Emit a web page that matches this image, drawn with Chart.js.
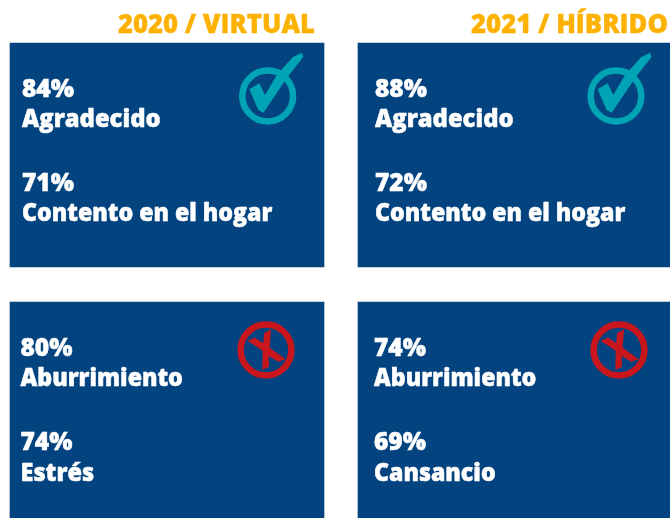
<!DOCTYPE html>
<html lang="es">
<head>
<meta charset="utf-8">
<title>2020 / 2021</title>
<script src="https://cdn.jsdelivr.net/npm/chart.js@4/dist/chart.umd.js"></script>
<style>html,body{margin:0;padding:0;background:#fff}canvas{display:block}</style>
</head>
<body>
<canvas id="c" width="670" height="518"></canvas>
<script>
const categories = ['2020 / VIRTUAL', '2021 / HÍBRIDO'];
const upperFirstValues = [84, 88];
const upperFirstLabels = ['Agradecido', 'Agradecido'];
const upperSecondValues = [71, 72];
const upperSecondLabels = ['Contento en el hogar', 'Contento en el hogar'];
const lowerFirstValues = [80, 74];
const lowerFirstLabels = ['Aburrimiento', 'Aburrimiento'];
const lowerSecondValues = [74, 69];
const lowerSecondLabels = ['Estrés', 'Cansancio'];

const PANEL = '#03437F', TITLE = '#FDB100', TEAL = '#00A4B5', RED = '#C9161D';
const BODY_FONT = '800 24.5px "Open Sans"';
const TITLE_FONT = '800 27px "Open Sans"';
const upperBand = [0, 224], lowerBand = [259, 475];
const labelFit = { Agradecido: 0.97, 'Estrés': 0.96 };

const CHECK = [[748,268],[778,250],[795,285],[830,225],[878,172],[905,158],[910,170],[862,232],[790,338],[775,330]];
const CROSS = [[83,122],[105,113],[130,130],[132,100],[153,88],[149,143],[197,178],[175,185],[146,168],[147,200],[127,210],[128,152]];

function poly(ctx, pts, ox, oy, cx, cy) {
  ctx.beginPath();
  pts.forEach(([x, y], i) => {
    const px = cx + (x - ox) / 3, py = cy + (y - oy) / 3;
    i ? ctx.lineTo(px, py) : ctx.moveTo(px, py);
  });
  ctx.closePath();
  ctx.fill();
}
function ring(ctx, cx, cy, color) {
  ctx.strokeStyle = color;
  ctx.lineWidth = 6.5;
  ctx.beginPath();
  ctx.arc(cx, cy, 25.4, 0, Math.PI * 2);
  ctx.stroke();
}
function heavy(ctx, text, x, y, fit) {
  const w = ctx.measureText(text).width * fit;
  ctx.fillText(text, x, y, w);
  ctx.strokeText(text, x, y, w);
}
const panelText = {
  id: 'panelText',
  afterDatasetsDraw(chart) {
    const ctx = chart.ctx;
    ctx.save();
    ctx.textBaseline = 'alphabetic';
    ctx.lineJoin = 'round';
    categories.forEach((name, i) => {
      ctx.textAlign = 'right';
      ctx.fillStyle = TITLE;
      ctx.strokeStyle = TITLE;
      ctx.lineWidth = 0.3;
      ctx.font = TITLE_FONT;
      ctx.fillText(name, [315, 668][i], 33, 197);
      ctx.strokeText(name, [315, 668][i], 33, 197);

      ctx.textAlign = 'left';
      ctx.fillStyle = '#fff';
      ctx.strokeStyle = '#fff';
      ctx.lineWidth = 0.5;
      ctx.font = BODY_FONT;
      const xU = [22, 375][i], xL = [20.5, 374][i];
      const fit = t => labelFit[t] || 0.945;
      heavy(ctx, upperFirstValues[i] + '%', xU, 97, 1);
      heavy(ctx, upperFirstLabels[i], xU, 126.5, fit(upperFirstLabels[i]));
      heavy(ctx, upperSecondValues[i] + '%', xU, 191, 1);
      heavy(ctx, upperSecondLabels[i], xU, 221, fit(upperSecondLabels[i]));
      heavy(ctx, lowerFirstValues[i] + '%', xL, 356, 1);
      heavy(ctx, lowerFirstLabels[i], xL, 386, fit(lowerFirstLabels[i]));
      heavy(ctx, lowerSecondValues[i] + '%', xL, 450, 1);
      heavy(ctx, lowerSecondLabels[i], xL, 481, fit(lowerSecondLabels[i]));

      const cxU = [267.7, 616][i], cxL = [266, 619][i];
      ring(ctx, cxU, 96, TEAL);
      ctx.fillStyle = TEAL;
      poly(ctx, CHECK, 803, 288, cxU, 96);
      ring(ctx, cxL, 350, RED);
      ctx.fillStyle = RED;
      poly(ctx, CROSS, 138, 150, cxL, 350);
    });
    ctx.restore();
  }
};

new Chart(document.getElementById('c'), {
  type: 'bar',
  data: {
    labels: categories,
    datasets: [
      { label: 'Positivo', data: categories.map(() => upperBand), backgroundColor: PANEL, clip: false, barThickness: 314, grouped: false },
      { label: 'Negativo', data: categories.map(() => lowerBand), backgroundColor: PANEL, clip: false, barThickness: 314, grouped: false }
    ]
  },
  options: {
    responsive: false,
    animation: false,
    layout: { padding: { left: 167, right: 155, top: 43, bottom: 0 } },
    plugins: { legend: { display: false }, tooltip: { enabled: false }, title: { display: false } },
    scales: {
      x: { type: 'category', offset: false, display: false, grid: { display: false } },
      y: { type: 'linear', reverse: true, min: 0, max: 475, display: false, grid: { display: false } }
    }
  },
  plugins: [panelText]
});
</script>
</body>
</html>
